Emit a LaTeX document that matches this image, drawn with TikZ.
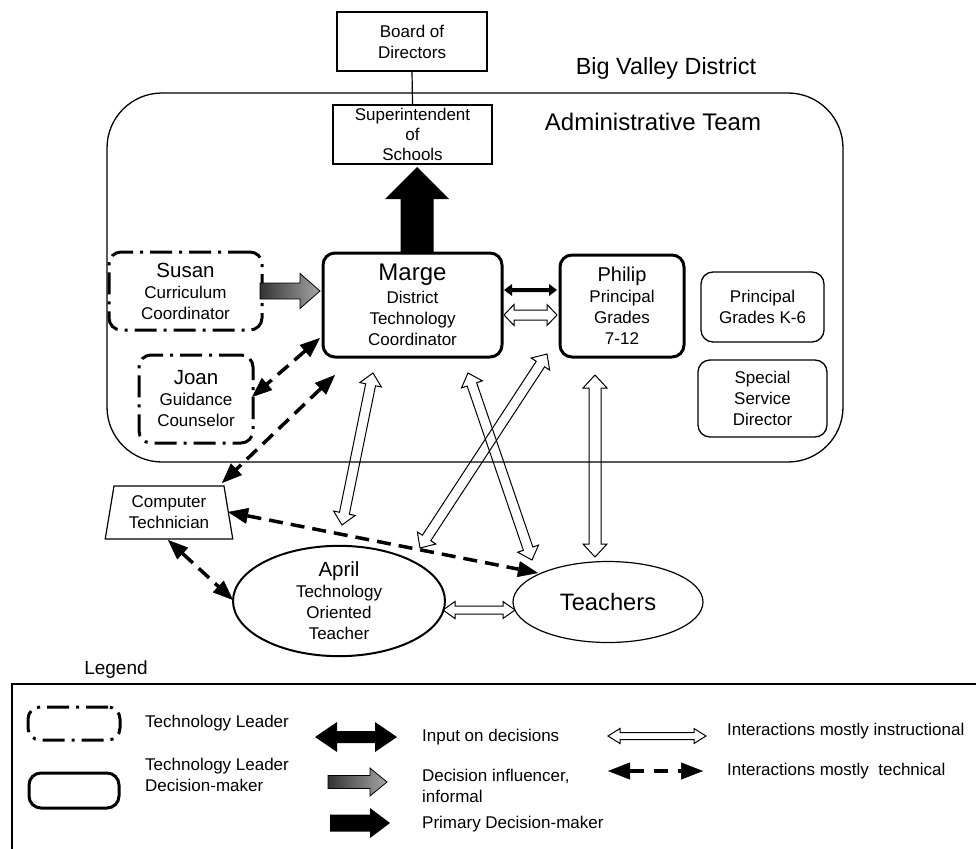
\documentclass[tikz,border=0pt]{standalone}
\usepackage{fontspec}
\setmainfont{Liberation Sans}
\usetikzlibrary{calc,shapes.geometric,arrows.meta}

\newcommand\fsz[2]{\fontsize{#1}{#2}\selectfont}

% Block arrow with a head at both ends:
% [style]{from}{to}{half shaft width}{half head width}{head length}
\newcommand\blocktwo[6][]{%
  \coordinate (btA) at ($(#2)!#6!(#3)$);
  \coordinate (btB) at ($(#3)!#6!(#2)$);
  \path[#1] (#2) -- ($(btA)!#5!90:(#3)$) -- ($(btA)!#4!90:(#3)$)
    -- ($(btB)!#4!90:(#3)$) -- ($(btB)!#5!90:(#3)$) -- (#3)
    -- ($(btB)!#5!-90:(#3)$) -- ($(btB)!#4!-90:(#3)$)
    -- ($(btA)!#4!-90:(#3)$) -- ($(btA)!#5!-90:(#3)$) -- cycle;}

% Block arrow with a single head at the "to" end
\newcommand\blockone[6][]{%
  \coordinate (boB) at ($(#3)!#6!(#2)$);
  \path[#1] ($(#2)!#4!90:(#3)$) -- ($(boB)!#4!90:(#3)$)
    -- ($(boB)!#5!90:(#3)$) -- (#3) -- ($(boB)!#5!-90:(#3)$)
    -- ($(boB)!#4!-90:(#3)$) -- ($(#2)!#4!-90:(#3)$) -- cycle;}

\begin{document}
\begin{tikzpicture}[x=1pt,y=-1pt, font=\fsz{17}{21},
  plainbox/.style={draw, line width=1.2pt, align=center, inner sep=0pt},
  softbox/.style={draw, line width=1.3pt, rounded corners=12pt, align=center, inner sep=0pt},
  leaderbox/.style={draw, line width=3pt, rounded corners=12pt,
    dash pattern=on 22pt off 7pt on 3pt off 7pt, align=center, inner sep=0pt},
  deciderbox/.style={draw, line width=3pt, rounded corners=12pt, align=center, inner sep=0pt},
  legendtext/.style={inner sep=0pt, anchor=west, align=left},
  hollowarrow/.style={draw, line width=1pt, line join=miter},
  solidarrow/.style={fill=black},
  grayarrow/.style={draw=black, line width=0.8pt, left color=black!80, right color=black!35},
  techtip/.style={},
  techarrow/.style={line width=3.5pt, dash pattern=on 14pt off 8pt,
    {Triangle[length=20pt,width=16pt,line width=0.5pt]}-{Triangle[length=20pt,width=16pt,line width=0.5pt]}},
]
\useasboundingbox (0,0) rectangle (976,848);
\fill[white] (0,0) rectangle (976,848);

% ---------- district frame ----------
\node[draw, line width=1.3pt, rounded corners=55pt, minimum width=736, minimum height=369,
      inner sep=0pt] (district) at (475,277.5) {};
\node[font=\fsz{23.4}{26}] (districtTitle) at (666,68) {Big Valley District};
\node[font=\fsz{24}{26}] (teamTitle) at (653,122) {Administrative Team};

% ---------- top of the hierarchy ----------
\node[plainbox, minimum width=150, minimum height=59] (board) at (412,41.5) {Board of\\Directors};
\node[plainbox, minimum width=159, minimum height=59, font=\fsz{17}{20}] (super) at (412.5,134.5)
  {Superintendent\\of\\Schools};
\draw[line width=1.2pt] (board.south) -- (super.north);

% ---------- administrative team ----------
\node[deciderbox, minimum width=179, minimum height=104] (marge) at (412.5,305)
  {{\fsz{24}{26}Marge}\\[2pt]District\\Technology\\Coordinator};
\node[deciderbox, minimum width=124, minimum height=102] (philip) at (622,306)
  {{\fsz{20}{22}Philip}\\Principal\\Grades\\7-12};
\node[softbox, minimum width=123, minimum height=70] (k6) at (762.5,307) {Principal\\Grades K-6};
\node[softbox, minimum width=129, minimum height=77] (ssd) at (762.5,398.5) {Special\\Service\\Director};
\node[leaderbox, minimum width=153, minimum height=78] (susan) at (185.5,291)
  {{\fsz{20.5}{22}Susan}\\Curriculum\\Coordinator};
\node[leaderbox, minimum width=114, minimum height=88] (joan) at (196,399)
  {{\fsz{20.5}{22}Joan}\\Guidance\\Counselor};

% ---------- outside the team ----------
\node[draw, line width=1.2pt, trapezium, trapezium left angle=79, trapezium right angle=79,
      trapezium stretches=true, minimum width=128, minimum height=53, align=center, inner sep=0pt]
  (tech) at (169,512.5) {Computer\\Technician};
\node[draw, ellipse, line width=2pt, minimum width=212, minimum height=102, align=center, inner sep=0pt]
  (april) at (339,601) {{\fsz{20.5}{22}April}\\Technology\\Oriented\\Teacher};
\node[draw, ellipse, line width=1.2pt, minimum width=190, minimum height=81, inner sep=0pt,
      font=\fsz{23.7}{26}] (teachers) at (608,602) {Teachers};

% ---------- connector end points ----------
\coordinate (margeTop) at (417,254);
\coordinate (superFoot) at (417,167);
\coordinate (susanOut) at (260,291);
\coordinate (margeIn) at (320,291);
\coordinate (mpInA) at (504,290);
\coordinate (mpInB) at (557,290);
\coordinate (mpIsA) at (504,315);
\coordinate (mpIsB) at (557,315);
\coordinate (margeJ) at (320,338);
\coordinate (joanM) at (252,397);
\coordinate (margeT) at (335,375);
\coordinate (techM) at (222,483);
\coordinate (techR) at (228,512);
\coordinate (teachT) at (538,573);
\coordinate (techA) at (168,540);
\coordinate (aprilT) at (233,600);
\coordinate (margeA) at (373,373);
\coordinate (aprilM) at (342,525);
\coordinate (margeTe) at (468,373);
\coordinate (teachM) at (532,560);
\coordinate (aprilP) at (420,548);
\coordinate (philipA) at (547,354);
\coordinate (philipT) at (595,375);
\coordinate (teachP) at (595,557);
\coordinate (aprilTe) at (443,610);
\coordinate (teachA) at (515,610);

% ---------- decision arrows ----------
\blockone[solidarrow]{margeTop}{superFoot}{16.5pt}{32pt}{32pt}
\blockone[grayarrow]{susanOut}{margeIn}{8pt}{17.5pt}{20pt}
\blocktwo[solidarrow]{mpInA}{mpInB}{2pt}{6pt}{8pt}

% ---------- instructional interactions ----------
\blocktwo[hollowarrow]{mpIsA}{mpIsB}{5pt}{10.5pt}{10pt}
\blocktwo[hollowarrow]{margeA}{aprilM}{5pt}{11pt}{12pt}
\blocktwo[hollowarrow]{margeTe}{teachM}{5pt}{11pt}{12pt}
\blocktwo[hollowarrow]{aprilP}{philipA}{5pt}{11pt}{12pt}
\blocktwo[hollowarrow]{philipT}{teachP}{6pt}{12pt}{13pt}
\blocktwo[hollowarrow]{aprilTe}{teachA}{4pt}{8.5pt}{12pt}

% ---------- technical interactions ----------
\draw[techarrow] (margeJ) -- (joanM);
\draw[techarrow] (margeT) -- (techM);
\draw[techarrow] (techR) -- (teachT);
\draw[techarrow] (techA) -- (aprilT);

% ---------- legend ----------
\node[font=\fsz{19}{22}] (legendTitle) at (116,670) {Legend};
\draw[line width=1.2pt] (12,852) -- (12,684) -- (980,684);
\node[leaderbox, minimum width=92, minimum height=33] (keyLeader) at (74,723.5) {};
\node[deciderbox, minimum width=90, minimum height=35] (keyDecider) at (74,790.5) {};
\node[legendtext] (keyLeaderText) at (145,723) {Technology Leader};
\node[legendtext] (keyDeciderText) at (145,774.5) {Technology Leader\\Decision-maker};

\coordinate (k1a) at (315,737);  \coordinate (k1b) at (397,737);
\coordinate (k2a) at (328,782);  \coordinate (k2b) at (387,782);
\coordinate (k3a) at (330,823);  \coordinate (k3b) at (390,823);
\coordinate (k4a) at (608,736);  \coordinate (k4b) at (706,736);
\coordinate (k5a) at (608,771);  \coordinate (k5b) at (703,771);
\blocktwo[solidarrow]{k1a}{k1b}{6pt}{15pt}{22pt}
\blockone[grayarrow]{k2a}{k2b}{6.5pt}{14pt}{17pt}
\blockone[solidarrow]{k3a}{k3b}{8.5pt}{15pt}{20pt}
\blocktwo[hollowarrow]{k4a}{k4b}{3.5pt}{7.5pt}{12pt}
\draw[line width=4pt, dash pattern=on 14pt off 10pt,
  {Triangle[length=22pt,width=17pt,line width=0.5pt]}-{Triangle[length=22pt,width=17pt,line width=0.5pt]}]
  (k5a) -- (k5b);

\node[legendtext] (keyInput) at (422,737) {Input on decisions};
\node[legendtext] (keyInfluence) at (422,786) {Decision influencer,\\informal};
\node[legendtext] (keyPrimary) at (422,824) {Primary Decision-maker};
\node[legendtext] (keyInstr) at (727,731) {Interactions mostly instructional};
\node[legendtext] (keyTech) at (727,771) {Interactions mostly\ \ technical};
\end{tikzpicture}
\end{document}
